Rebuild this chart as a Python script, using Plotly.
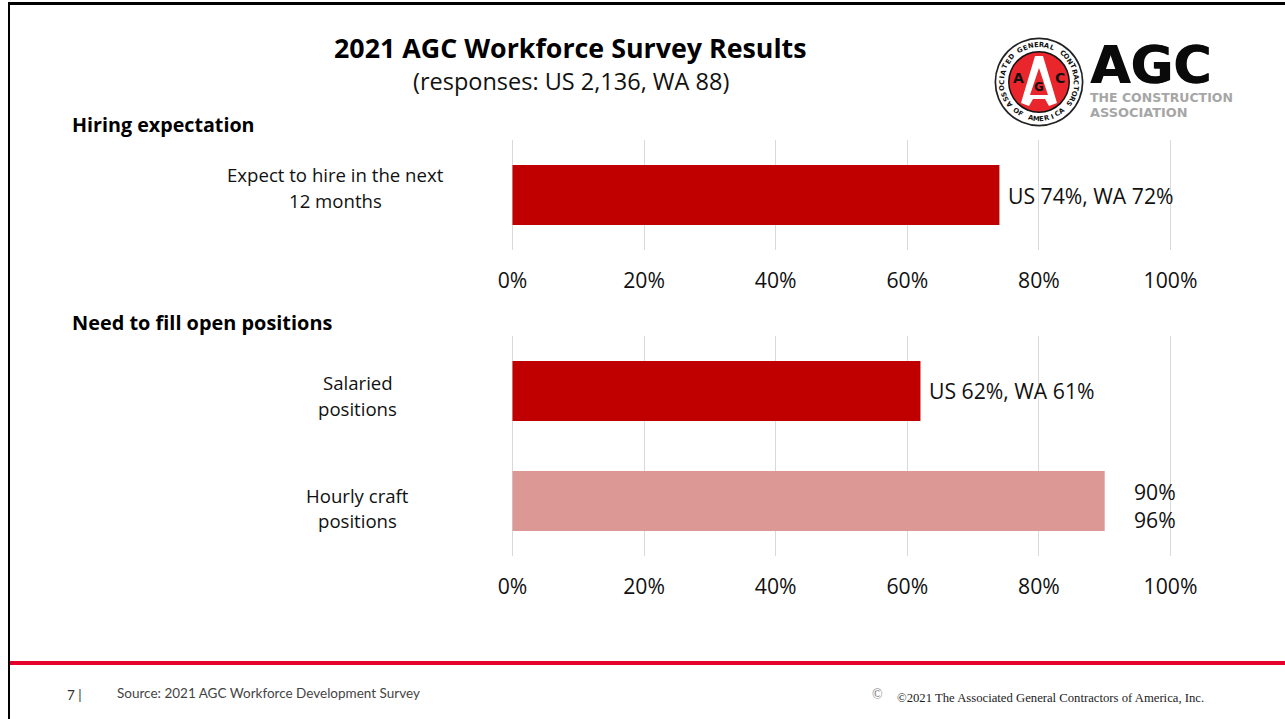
import math
import plotly.graph_objects as go

W, H = 1285, 719

# Survey values
hiring_categories = ["Expect to hire"]
hiring_values = [74]
hiring_labels = ["US 74%, WA 72%"]
hiring_names = [["Expect to hire in the next", "12 months"]]

open_categories = ["Salaried", "Hourly craft"]
open_values = [62, 90]
open_labels = ["US 62%, WA 61%", "90%<br>96%"]
open_names = [["Salaried", "positions"], ["Hourly craft", "positions"]]
open_colors = ["#C00000", "#DB9895"]

tick_values = [0, 20, 40, 60, 80, 100]
tick_labels = ["0%", "20%", "40%", "60%", "80%", "100%"]

SANS = "Open Sans"
DARK = "#111111"


def px(x):
    return x / W


def py(y):
    return 1 - y / H


def note(x, y, text, size, family=SANS, color=DARK, bold=False, anchor="center", angle=0, **extra):
    font = dict(family=family, size=size, color=color)
    font.update(extra.pop("font_extra", {}))
    return dict(
        xref="paper", yref="paper", x=px(x), y=py(y), text=f"<b>{text}</b>" if bold else text,
        showarrow=False, xanchor=anchor, yanchor="middle", textangle=angle,
        font=font, borderpad=0, borderwidth=0, **extra,
    )


def circle(cx, cy, r, fill):
    return dict(type="circle", xref="paper", yref="paper", x0=px(cx - r), x1=px(cx + r),
                y0=py(cy + r), y1=py(cy - r), fillcolor=fill, line_width=0, layer="above")


def rect(x0, y0, x1, y1, fill):
    return dict(type="rect", xref="paper", yref="paper", x0=px(x0), x1=px(x1),
                y0=py(y1), y1=py(y0), fillcolor=fill, line_width=0, layer="above")


def polygon(points, fill):
    d = "M " + " L ".join(f"{px(x):.5f} {py(y):.5f}" for x, y in points) + " Z"
    return dict(type="path", xref="paper", yref="paper", path=d, fillcolor=fill,
                line_width=0, layer="above")


def name_lines(yref, cat, lines, x, first_shift, second_shift):
    # Two-line category name, placed relative to its bar with a set line spacing
    out = []
    for line, shift in zip(lines, (first_shift, second_shift)):
        out.append(dict(xref="paper", yref=yref, x=px(x), y=cat, text=line, showarrow=False,
                        xanchor="center", yanchor="middle", yshift=shift,
                        font=dict(family=SANS, size=18.6, color=DARK)))
    return out


def value_label(xref, yref, val, cat, text, xshift, yshift):
    return dict(xref=xref, yref=yref, x=val, y=cat, text=text, showarrow=False, xanchor="left",
                yanchor="middle", xshift=xshift, yshift=yshift, align="right",
                font=dict(family=SANS, size=21.2, color=DARK))


fig = go.Figure()

fig.add_trace(go.Bar(
    x=hiring_values, y=hiring_categories, orientation="h", marker=dict(color="#C00000", line_width=0),
    width=0.545, xaxis="x", yaxis="y", showlegend=False, hoverinfo="skip",
))
fig.add_trace(go.Bar(
    x=open_values, y=open_categories, orientation="h", marker=dict(color=open_colors, line_width=0),
    width=0.545, xaxis="x2", yaxis="y2", showlegend=False, hoverinfo="skip",
))

# Two pixels of extra range on each side keep the 0% and 100% gridlines drawn
axis_x = dict(
    range=[-0.304, 100.304], tickvals=tick_values, ticktext=tick_labels, showgrid=True, gridcolor="#D9D9D9",
    gridwidth=1, zeroline=False, showline=False, ticks="", ticklabelstandoff=16,
    tickfont=dict(family=SANS, size=21.2, color=DARK), domain=[px(510.5), px(1172.5)],
)
axis_y = dict(showticklabels=False, showgrid=False, zeroline=False, showline=False, ticks="")

annotations = [
    note(570.5, 47.5, "2021 AGC Workforce Survey Results", 26.8, bold=True, color="#000000"),
    note(570.5, 81, "(responses: US 2,136, WA 88)", 23.5),
    note(72, 124, "Hiring expectation", 19.7, bold=True, anchor="left", color="#000000"),
    note(72, 322, "Need to fill open positions", 19.9, bold=True, anchor="left", color="#000000"),
    note(67, 695, "7 |", 13.5, family="Lato", color="#333333", anchor="left"),
    note(117, 693, "Source: 2021 AGC Workforce Development Survey", 13.5, family="Lato", color="#444444", anchor="left"),
    note(897, 698, "©2021 The Associated General Contractors of America, Inc.", 12.7,
         family="Liberation Serif", color="#222222", anchor="left"),
    note(872, 694, "©", 14, family="Liberation Serif", color="#777777", anchor="left"),
]

annotations += name_lines("y", hiring_categories[0], hiring_names[0], 335.5, 20, -6)
annotations += name_lines("y2", open_categories[0], open_names[0], 357.5, 9, -17)
annotations += name_lines("y2", open_categories[1], open_names[1], 357, 6, -19)

annotations.append(value_label("x", "y", hiring_values[0], hiring_categories[0], hiring_labels[0], 7, -1))
annotations.append(value_label("x2", "y2", open_values[0], open_categories[0], open_labels[0], 7, 1))
annotations.append(value_label("x2", "y2", open_values[1], open_categories[1], open_labels[1], 27, -4))

# Slide frame and footer rule
shapes = [
    rect(8, 2, W, 5, "#000000"),
    rect(8, 2, 10, H, "#000000"),
    rect(10, 661, W, 665, "#E4002B"),
]

# Association seal
CX, CY = 1039, 82
shapes += [
    circle(CX, CY, 44.5, "#222222"),
    circle(CX, CY, 42.8, "#FFFFFF"),
    circle(CX, CY, 31, "#111111"),
    circle(CX, CY, 29.5, "#E8262B"),
    polygon([(1035, 56), (1043, 56), (1057, 103), (1049, 106), (1045, 99), (1033, 99),
             (1029, 106), (1021, 103)], "#FFFFFF"),
    polygon([(1039, 68), (1048, 95), (1030, 95)], "#E8262B"),
]
annotations += [
    note(1018, 78, "A", 14, family="DejaVu Sans", bold=True, color="#111111"),
    note(1060, 78, "C", 14, family="DejaVu Sans", bold=True, color="#111111"),
    note(1039, 87, "G", 12, family="DejaVu Sans", bold=True, color="#111111"),
]

ring_top = "ASSOCIATED GENERAL CONTRACTORS"
ring_bottom = "OF AMERICA"
RING_R = 37
span_top = 252
for i, ch in enumerate(ring_top):
    deg = -span_top / 2 + span_top * i / (len(ring_top) - 1)
    rad = math.radians(deg)
    annotations.append(note(CX + RING_R * math.sin(rad), CY - RING_R * math.cos(rad), ch, 6.8,
                            family="DejaVu Sans", bold=True, color="#111111", angle=deg))
span_bottom = 76
for i, ch in enumerate(ring_bottom):
    deg = -span_bottom / 2 + span_bottom * i / (len(ring_bottom) - 1)
    rad = math.radians(deg)
    annotations.append(note(CX + RING_R * math.sin(rad), CY + RING_R * math.cos(rad), ch, 6.8,
                            family="DejaVu Sans", bold=True, color="#111111", angle=-deg))

# Association wordmark
annotations += [
    note(1090, 65, "AGC", 52, family="DejaVu Sans", bold=True, color="#0A0A0A", anchor="left", height=44,
         font_extra=dict(shadow="1px 0 0 #0A0A0A")),
    note(1090, 97, "THE CONSTRUCTION", 12.5, family="DejaVu Sans", bold=True, color="#A6A6A6", anchor="left"),
    note(1090, 113, "ASSOCIATION", 12.9, family="DejaVu Sans", bold=True, color="#A6A6A6", anchor="left"),
]

fig.update_layout(
    width=W, height=H, margin=dict(l=0, r=0, t=0, b=0, autoexpand=False),
    paper_bgcolor="#FFFFFF", plot_bgcolor="#FFFFFF",
    barmode="overlay", showlegend=False,
    xaxis=dict(axis_x, anchor="y"),
    yaxis=dict(axis_y, domain=[py(250), py(140)], type="category"),
    xaxis2=dict(axis_x, anchor="y2"),
    yaxis2=dict(axis_y, domain=[py(556), py(336)], type="category", autorange="reversed"),
    annotations=annotations, shapes=shapes,
)

fig.write_html("out.html", config={"displayModeBar": False})
